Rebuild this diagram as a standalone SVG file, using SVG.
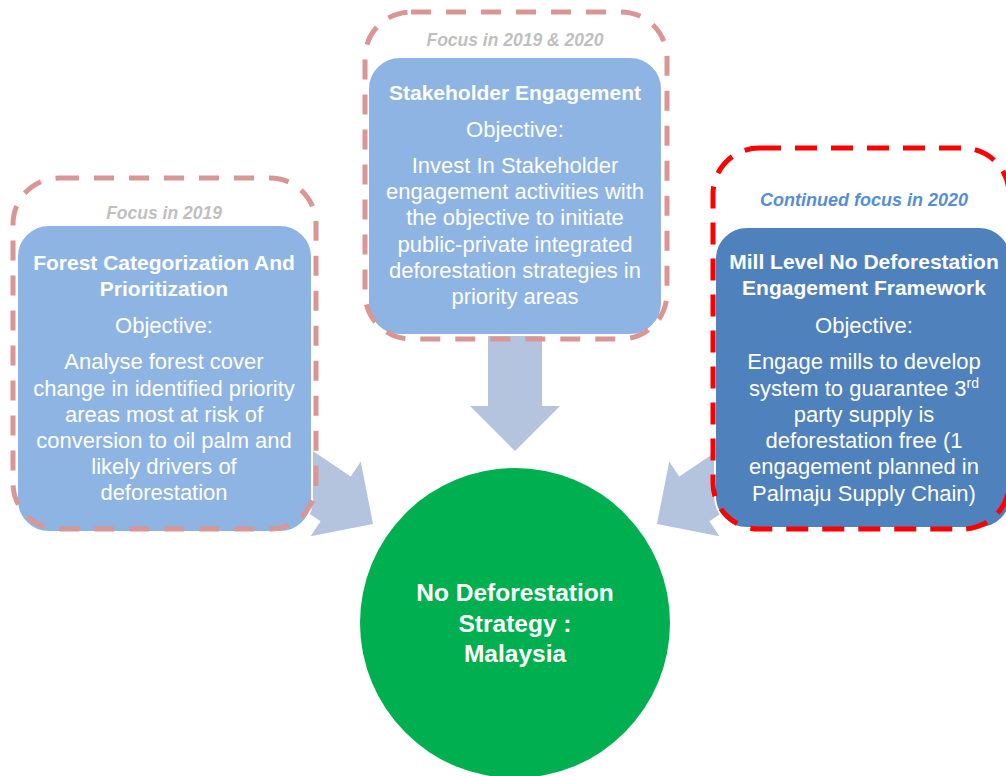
<svg xmlns="http://www.w3.org/2000/svg" width="1006" height="776" viewBox="0 0 1006 776">
<style>
.box{fill:#8EB4E3;stroke:#FFFFFF;stroke-width:2}
.boxd{fill:#4F81BD;stroke:#FFFFFF;stroke-width:2}
.dash{fill:none;stroke:#D99694;stroke-width:5;stroke-dasharray:20 15}
.dashr{fill:none;stroke:#FF0000;stroke-width:5;stroke-dasharray:22 14}
.arrow{fill:#B4C3DE}
text{font-family:"Liberation Sans",Arial,sans-serif;text-anchor:middle;fill:#FFFFFF}
.t{font-weight:bold;font-size:21px}
.o{font-size:22px}
.f{font-weight:bold;font-style:italic;font-size:17.5px;fill:#BFBFBF}
.fb{font-weight:bold;font-style:italic;font-size:18px;fill:#558ED5}
.c{font-weight:bold;font-size:24.5px}
</style>
<defs>
<polygon id="arr" points="0,0 -45,45 -45,27 -160,27 -160,-27 -45,-27 -45,-45"/>
</defs>
<g id="connectors">
<use href="#arr" class="arrow" transform="translate(373,524) rotate(33.9)"/>
<use href="#arr" class="arrow" transform="translate(657,524) rotate(146.1)"/>
<polygon class="arrow" points="488,320 542,320 542,406 560,406 515,451 470,406 488,406"/>
</g>
<g id="node-forest">
<rect class="box" x="17" y="225" width="295" height="307" rx="32"/>
<rect class="dash" x="13" y="178" width="303" height="351" rx="46"/>
<text class="f" x="164" y="219">Focus in 2019</text>
<text class="t" x="164" y="270">Forest Categorization And</text>
<text class="t" x="164" y="296">Prioritization</text>
<text class="o" x="164" y="333">Objective:</text>
<text class="o" x="164" y="369">Analyse forest cover</text>
<text class="o" x="164" y="396">change in identified priority</text>
<text class="o" x="164" y="422">areas most at risk of</text>
<text class="o" x="164" y="448">conversion to oil palm and</text>
<text class="o" x="164" y="474">likely drivers of</text>
<text class="o" x="164" y="500">deforestation</text>
</g>
<g id="node-stakeholder">
<rect class="box" x="368" y="57" width="294" height="278" rx="32"/>
<rect class="dash" x="365" y="12" width="302" height="327" rx="46"/>
<text class="f" x="515" y="46">Focus in 2019 &amp; 2020</text>
<text class="t" x="515" y="100">Stakeholder Engagement</text>
<text class="o" x="515" y="137">Objective:</text>
<text class="o" x="515" y="173">Invest In Stakeholder</text>
<text class="o" x="515" y="199">engagement activities with</text>
<text class="o" x="515" y="225">the objective to initiate</text>
<text class="o" x="515" y="252">public-private integrated</text>
<text class="o" x="515" y="278">deforestation strategies in</text>
<text class="o" x="515" y="304">priority areas</text>
</g>
<g id="node-mill">
<rect class="boxd" x="715" y="227" width="296" height="301" rx="32"/>
<rect class="dashr" x="713" y="148" width="296" height="381" rx="46"/>
<text class="fb" x="864" y="206">Continued focus in 2020</text>
<text class="t" x="864" y="269">Mill Level No Deforestation</text>
<text class="t" x="864" y="295">Engagement Framework</text>
<text class="o" x="864" y="333">Objective:</text>
<text class="o" x="864" y="369">Engage mills to develop</text>
<text class="o" x="864" y="396">system to guarantee 3<tspan dy="-8" font-size="14">rd</tspan></text>
<text class="o" x="864" y="422">party supply is</text>
<text class="o" x="864" y="448">deforestation free (1</text>
<text class="o" x="864" y="474">engagement planned in</text>
<text class="o" x="864" y="501">Palmaju Supply Chain)</text>
</g>
<g id="node-strategy">
<circle cx="515" cy="623" r="155" fill="#00B050"/>
<text class="c" x="515" y="601">No Deforestation</text>
<text class="c" x="515" y="632">Strategy :</text>
<text class="c" x="515" y="662">Malaysia</text>
</g>
</svg>
